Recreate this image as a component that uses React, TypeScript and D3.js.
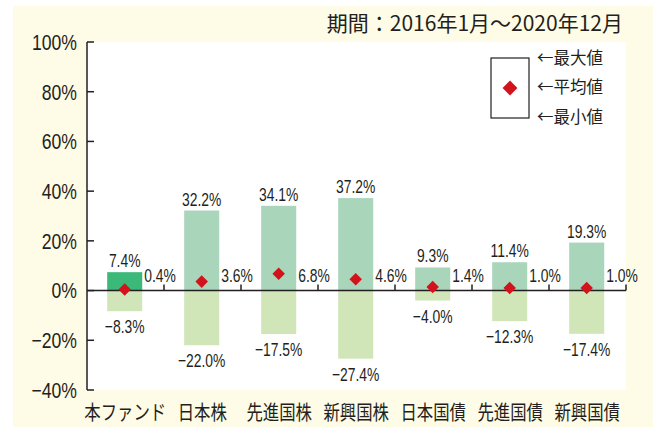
import React, { useEffect, useRef } from 'react';
import * as d3 from 'd3';

const categories = ['本ファンド', '日本株', '先進国株', '新興国株', '日本国債', '先進国債', '新興国債'];
const maxValues = [7.4, 32.2, 34.1, 37.2, 9.3, 11.4, 19.3];
const meanValues = [0.4, 3.6, 6.8, 4.6, 1.4, 1.0, 1.0];
const minValues = [-8.3, -22.0, -17.5, -27.4, -4.0, -12.3, -17.4];
const yTicks = [-40, -20, 0, 20, 40, 60, 80, 100];
const legendLabels = ['←最大値', '←平均値', '←最小値'];
const periodText = '期間：2016年1月～2020年12月';

const INK = '#231f20';
const NUM_FONT = "'Liberation Sans', Arial, sans-serif";
const JP_FONT = "'Noto Sans CJK JP', 'Noto Sans', sans-serif";

const fmt = (v: number) => v.toFixed(1).replace('-', '−') + '%';

const App = () => {
  const ref = useRef<SVGSVGElement>(null);

  useEffect(() => {
    const svg = d3.select(ref.current);
    svg.selectAll('*').remove();

    const width = 655;
    const height = 428;
    const plot = { left: 87, right: 626, top: 42, bottom: 390 };

    svg.attr('width', width).attr('height', height);

    // cream panel + white plot area
    svg.append('rect').attr('x', 13).attr('y', 6).attr('width', 640).attr('height', 421).attr('fill', '#fefbe6');
    svg.append('rect')
      .attr('x', plot.left).attr('y', plot.top)
      .attr('width', plot.right - plot.left).attr('height', plot.bottom - plot.top)
      .attr('fill', '#ffffff');

    const x = d3.scaleBand<string>()
      .domain(categories)
      .range([plot.left, plot.right]);

    const y = d3.scaleLinear()
      .domain([-40, 100])
      .range([plot.bottom, plot.top]);

    const barW = x.bandwidth() * 0.455;
    const cx = (c: string) => (x(c) as number) + x.bandwidth() / 2 - 0.8;

    // max bars
    svg.append('g').selectAll('rect')
      .data(categories)
      .join('rect')
      .attr('x', d => cx(d) - barW / 2)
      .attr('width', barW)
      .attr('y', (d, i) => y(maxValues[i]))
      .attr('height', (d, i) => y(0) - y(maxValues[i]))
      .attr('fill', (d, i) => (i === 0 ? '#3cb878' : '#a9d5bb'));

    // min bars
    svg.append('g').selectAll('rect')
      .data(categories)
      .join('rect')
      .attr('x', d => cx(d) - barW / 2)
      .attr('width', barW)
      .attr('y', y(0))
      .attr('height', (d, i) => y(minValues[i]) - y(0))
      .attr('fill', '#d0e6b9');

    // y axis
    const yAxis = svg.append('g').attr('transform', `translate(${plot.left},0)`);
    yAxis.append('line')
      .attr('y1', plot.top).attr('y2', plot.bottom)
      .attr('stroke', INK).attr('stroke-width', 1.5);
    yAxis.selectAll('line.tick')
      .data(yTicks)
      .join('line')
      .attr('class', 'tick')
      .attr('x1', 0).attr('x2', 7)
      .attr('y1', d => y(d)).attr('y2', d => y(d))
      .attr('stroke', INK).attr('stroke-width', 1.5);
    yAxis.selectAll('text')
      .data(yTicks)
      .join('text')
      .attr('transform', d => `translate(-10,${y(d)}) scale(0.8,1)`)
      .attr('dy', '0.36em')
      .attr('text-anchor', 'end')
      .style('font-family', NUM_FONT)
      .style('font-size', '22px')
      .attr('fill', INK)
      .text(d => `${d}%`.replace('-', '−'));

    // x axis at 0
    svg.append('line')
      .attr('x1', plot.left).attr('x2', plot.right)
      .attr('y1', y(0)).attr('y2', y(0))
      .attr('stroke', INK).attr('stroke-width', 1.5);
    svg.append('g').selectAll('line')
      .data(categories)
      .join('line')
      .attr('x1', d => (x(d) as number) + x.bandwidth())
      .attr('x2', d => (x(d) as number) + x.bandwidth())
      .attr('y1', y(0)).attr('y2', y(0) - 6)
      .attr('stroke', INK).attr('stroke-width', 1.5);

    // category labels
    svg.append('g').selectAll('text')
      .data(categories)
      .join('text')
      .attr('transform', d => `translate(${cx(d) + 0.5},${plot.bottom + 30}) scale(0.8,1)`)
      .attr('text-anchor', 'middle')
      .style('font-family', JP_FONT)
      .style('font-size', '20.5px')
      .attr('fill', INK)
      .text(d => d);

    // mean diamonds
    const diamond = d3.symbol().type(d3.symbolDiamond2).size(100);
    svg.append('g').selectAll('path')
      .data(categories)
      .join('path')
      .attr('transform', (d, i) => `translate(${cx(d)},${y(meanValues[i])})`)
      .attr('d', diamond())
      .attr('fill', '#d2131b');

    const valueText = (g: d3.Selection<SVGGElement, unknown, null, undefined>) =>
      g.style('font-family', NUM_FONT).style('font-size', '19px').attr('fill', INK);
    const squeeze = (px: number, py: number) => `translate(${px},${py}) scale(0.73,1)`;

    // max labels
    svg.append('g').call(valueText).selectAll('text')
      .data(categories)
      .join('text')
      .attr('transform', (d, i) => squeeze(cx(d), y(maxValues[i]) - 5))
      .attr('text-anchor', 'middle')
      .text((d, i) => fmt(maxValues[i]));

    // min labels
    svg.append('g').call(valueText).selectAll('text')
      .data(categories)
      .join('text')
      .attr('transform', (d, i) => squeeze(cx(d), y(minValues[i]) + 22))
      .attr('text-anchor', 'middle')
      .text((d, i) => fmt(minValues[i]));

    // mean labels
    svg.append('g').call(valueText).selectAll('text')
      .data(categories)
      .join('text')
      .attr('transform', d => squeeze(cx(d) + barW / 2 + 2, y(0) - 9))
      .text((d, i) => fmt(meanValues[i]));

    // period title
    svg.append('text')
      .attr('x', 623).attr('y', 31)
      .attr('text-anchor', 'end')
      .style('font-family', JP_FONT)
      .style('font-size', '21px')
      .attr('fill', INK)
      .text(periodText);

    // legend
    const lg = svg.append('g');
    lg.append('rect')
      .attr('x', 491).attr('y', 58).attr('width', 38).attr('height', 60)
      .attr('fill', '#fff').attr('stroke', INK).attr('stroke-width', 1.2);
    lg.append('path')
      .attr('transform', 'translate(510,88)')
      .attr('d', d3.symbol().type(d3.symbolDiamond2).size(140)())
      .attr('fill', '#d2131b');
    lg.selectAll('text')
      .data(legendLabels)
      .join('text')
      .attr('x', 537)
      .attr('y', (d, i) => 58 + i * 29.3)
      .attr('dy', '0.36em')
      .style('font-family', JP_FONT)
      .style('font-size', '16.5px')
      .attr('fill', INK)
      .text(d => d);
  }, []);

  return <svg ref={ref} style={{ position: 'absolute', left: 0, top: 0 }}></svg>;
};

export default App;
